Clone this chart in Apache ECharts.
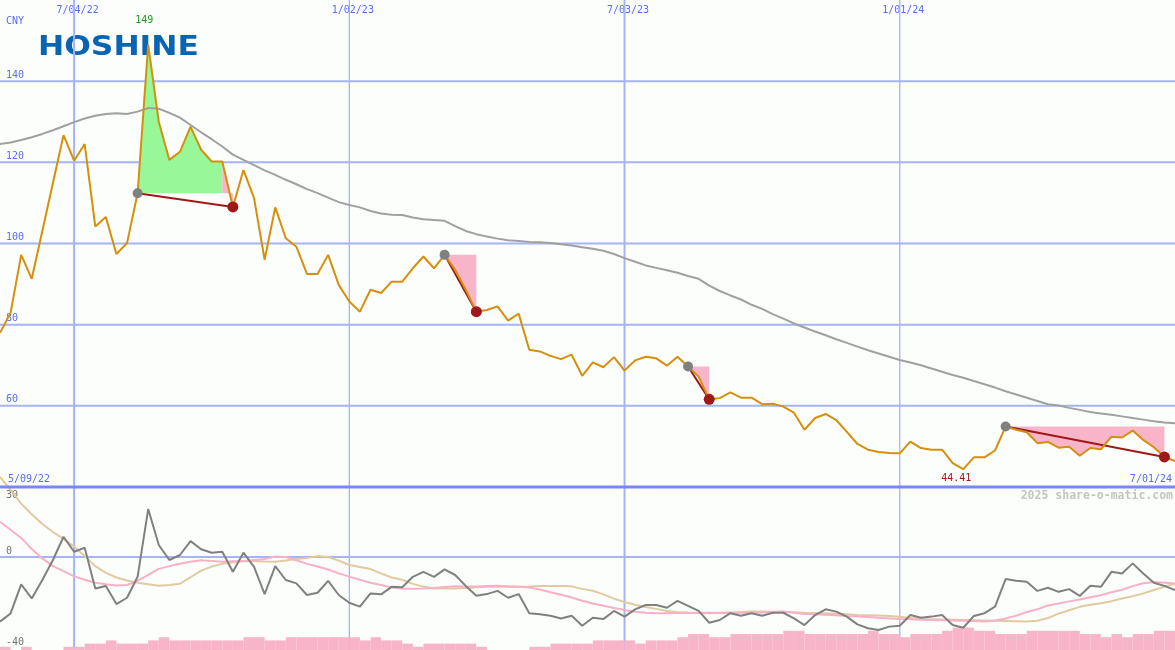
<!DOCTYPE html>
<html><head><meta charset="utf-8">
<script src="https://cdn.jsdelivr.net/npm/echarts@6/dist/echarts.min.js"></script>
<style>html,body{margin:0;padding:0;background:#fcfefc}#c{width:1175px;height:650px}</style>
</head><body><div id="c"></div>
<script>
// ---------- data ----------
const weekStart = [2022, 4, 16];          // first weekly point (Mon 16 May 2022)
const weekCount = 112;
const topTickIdx = [7, 33, 59, 85];       // 7/04/22, 1/02/23, 7/03/23, 1/01/24
const topTickWide = [true, false, true, false];
const priceTicks = [60, 80, 100, 120, 140];
const lowerTicks = [30, 0, -40];
const dateFirst = '5/09/22';
const dateLast = '7/01/24';
const currency = 'CNY';
const logoText = 'HOSHINE';
const watermark = '2025 share-o-matic.com';

const price = [78.0,82.9,97.2,91.3,103.1,114.9,126.7,120.4,124.5,104.2,
106.5,97.4,100.1,112.4,149,130,120.6,122.6,128.8,123.1,
120.2,120.2,109.0,118.1,111.2,96.0,108.9,101.3,99.2,92.5,
92.5,97.2,89.8,85.7,83.2,88.6,87.8,90.6,90.6,93.9,
96.8,93.9,97.2,93.5,88.6,83.2,83.6,84.5,81.0,82.7,
73.8,73.4,72.3,71.5,72.6,67.4,70.7,69.5,72.0,68.7,
71.2,72.1,71.7,69.9,72.1,69.7,67.2,61.6,61.9,63.3,
62.0,62.0,60.4,60.5,59.8,58.3,54.1,57.0,58.0,56.5,
53.6,50.6,49.2,48.6,48.4,48.3,51.2,49.6,49.2,49.2,
45.9,44.41,47.3,47.3,49.0,54.9,54.1,53.5,50.8,51.1,
49.7,49.9,47.7,49.6,49.3,52.4,52.2,53.9,51.6,49.8,
47.4,46.4];

const movingAvg = [124.5,124.9,125.5,126.2,127.0,127.9,128.9,129.9,130.8,131.5,
131.9,132.1,131.9,132.5,133.4,133.2,132.2,131.0,129.2,127.4,
125.7,123.9,121.9,120.6,119.3,118.0,116.9,115.7,114.6,113.4,
112.4,111.3,110.2,109.5,108.9,108.0,107.4,107.1,107.0,106.4,
106.0,105.8,105.6,104.3,103.1,102.3,101.7,101.2,100.8,100.6,
100.4,100.3,100.1,99.8,99.5,99.1,98.7,98.2,97.4,96.4,
95.5,94.6,94.0,93.4,92.8,92.0,91.3,89.6,88.3,87.2,
86.2,84.9,83.9,82.6,81.5,80.3,79.3,78.3,77.4,76.4,
75.5,74.6,73.7,72.9,72.1,71.3,70.7,70.0,69.2,68.4,
67.6,66.9,66.1,65.3,64.5,63.6,62.8,62.0,61.2,60.4,
60.1,59.5,59.0,58.5,58.1,57.8,57.4,57.0,56.6,56.2,
55.9,55.7];

const oscGrey = [-28.4,-24.8,-12.0,-18.2,-10.1,-1.3,8.9,2.3,4.1,-13.8,
-12.7,-20.7,-17.9,-8.7,21.1,5.3,-1.3,0.9,7.0,3.4,
1.9,2.3,-6.5,1.9,-4.3,-16.3,-4.0,-10.1,-11.6,-16.7,
-15.7,-10.5,-16.7,-20.1,-21.8,-16.0,-16.4,-13.1,-13.3,-8.7,
-6.5,-8.7,-5.4,-7.9,-12.7,-17.0,-16.3,-14.9,-17.9,-16.3,
-24.7,-25.2,-25.8,-27.0,-25.8,-30.2,-26.7,-27.3,-23.7,-26.2,
-23.0,-21.1,-21.1,-22.3,-19.3,-21.5,-23.7,-28.9,-27.7,-24.7,
-25.8,-24.7,-25.8,-24.5,-24.5,-27.0,-29.9,-25.5,-23.0,-24.0,
-26.2,-29.6,-31.3,-32.1,-30.6,-30.2,-25.5,-26.7,-26.2,-25.5,
-29.9,-31.1,-25.9,-24.7,-21.8,-9.7,-10.4,-10.9,-14.9,-13.5,
-15.3,-14.1,-17.1,-12.6,-13.1,-6.5,-7.2,-2.8,-7.2,-11.3,
-12.7,-14.5];

const oscPink = [15.5,12.0,8.4,3.5,-0.6,-4.0,-6.2,-8.5,-10.0,-11.3,
-12.0,-12.5,-12.3,-10.5,-7.8,-5.2,-4.0,-3.0,-2.1,-1.4,
-1.8,-2.1,-1.9,-1.8,-1.3,-0.9,0.2,0.0,-1.4,-3.0,
-4.2,-5.5,-7.2,-8.6,-10.0,-11.3,-12.3,-13.4,-14.0,-13.9,
-13.8,-13.6,-13.2,-12.8,-13.0,-13.0,-12.7,-12.6,-12.9,-13.1,
-13.4,-14.3,-15.5,-16.6,-17.8,-19.2,-20.4,-21.4,-22.4,-23.3,
-24.1,-24.5,-24.7,-24.7,-24.6,-24.5,-24.5,-24.5,-24.6,-24.6,
-24.5,-24.5,-24.4,-24.2,-24.0,-24.5,-25.0,-25.2,-25.4,-25.6,
-25.9,-26.1,-26.4,-26.7,-27.0,-27.3,-27.4,-27.6,-27.7,-27.8,
-27.9,-28.0,-28.1,-28.3,-27.9,-27.0,-25.8,-24.2,-23.0,-21.3,
-20.4,-19.5,-18.7,-17.7,-16.8,-15.5,-14.4,-12.8,-11.5,-11.0,
-11.3,-11.6];

const oscTan = [35.2,29.5,23.5,18.8,14.5,11.0,8.0,4.5,0.5,-4.0,
-7.0,-9.0,-10.3,-11.3,-12.0,-12.6,-12.3,-11.7,-8.9,-6.0,
-4.2,-3.0,-2.3,-1.9,-1.8,-2.0,-2.1,-1.5,-0.9,-0.4,
0.4,0.0,-1.6,-3.5,-4.4,-5.3,-7.2,-9.0,-10.0,-11.8,
-13.0,-13.8,-13.8,-13.8,-13.6,-13.3,-13.1,-13.1,-13.1,-13.1,
-13.0,-12.7,-12.7,-12.7,-12.9,-14.0,-14.8,-16.4,-18.3,-19.8,
-21.0,-22.0,-22.8,-23.7,-24.3,-24.5,-24.6,-24.7,-24.5,-24.3,
-24.2,-24.0,-24.0,-24.1,-24.2,-24.3,-24.5,-24.6,-24.7,-24.9,
-25.2,-25.5,-25.6,-25.7,-25.9,-26.3,-26.8,-27.3,-27.4,-27.5,
-27.6,-27.7,-27.8,-27.9,-28.0,-28.1,-28.2,-28.3,-28.0,-26.8,
-24.9,-23.4,-21.9,-21.0,-20.3,-19.4,-18.2,-17.2,-16.0,-14.5,
-13.0,-11.9];

const volume = [1,0,1,0,0,0,1,1,2,2,3,2,2,2,3,4,3,3,3,3,
3,3,3,4,4,3,3,4,4,4,4,4,4,4,3,4,3,3,2,1,
2,2,2,2,2,1,0,0,0,0,1,1,2,2,2,2,3,3,3,3,
2,3,3,3,4,5,5,4,4,5,5,5,5,5,6,6,5,5,5,5,
5,5,6,5,5,4,5,5,5,6,7,7,6,6,5,5,5,6,6,6,
6,6,5,5,4,5,4,5,5,6,6];

const trendStart = [13, 42, 65, 95];
const trendEnd = [22, 45, 67, 110];

// ---------- derived ----------
const pad = n => (n < 10 ? '0' : '') + n;
const weeks = [];
for (let i = 0; i < weekCount; i++) {
  const d = new Date(Date.UTC(weekStart[0], weekStart[1], weekStart[2]) + i * 7 * 86400000);
  weeks.push((d.getUTCMonth() + 1) + '/' + pad(d.getUTCDate()) + '/' + String(d.getUTCFullYear()).slice(2));
}
const barWeeks = weeks.slice(0, weekCount - 1);

const fillRuns = [];
trendStart.forEach((s, k) => {
  const e = trendEnd[k], level = price[s];
  let run = null;
  for (let i = s; i < e; i++) {
    const up = price[i + 1] > level;
    if (!run || run.up !== up) { run = {up, level, from: i, to: i + 1}; fillRuns.push(run); }
    else run.to = i + 1;
  }
});

const BLUE = '#5a6cf0', GRID = '#a4b4f4';
const MONO = '"DejaVu Sans Mono", monospace';

const chart = echarts.init(document.getElementById('c'), null, {renderer: 'canvas'});
const hidden = {show: false};
const baseX = (gi, data, gap) => ({gridIndex: gi, type: 'category', data, boundaryGap: gap,
  axisLine: hidden, axisTick: hidden, axisLabel: hidden, splitLine: hidden});

const option = {
  animation: false,
  backgroundColor: '#fcfefc',
  grid: [
    {left: 0, right: 0, top: 0, height: 487, containLabel: false, outerBoundsMode: 'none'},
    {left: 0, right: 0, top: 488.8, height: 159.2, containLabel: false, outerBoundsMode: 'none'},
    {left: 0, right: 0, top: 610, height: 40, containLabel: false, outerBoundsMode: 'none'},
    {left: 0, right: 0, top: 0, height: 650, containLabel: false, outerBoundsMode: 'none'}
  ],
  xAxis: [
    Object.assign(baseX(0, weeks, false), {position: 'top',
      axisLabel: {show: true, inside: true, margin: 5, color: BLUE, fontFamily: MONO, fontSize: 10,
        padding: [0, 0, 0, 7], verticalAlign: 'top',
        interval: (i) => topTickIdx.includes(i), formatter: v => v}}),
    baseX(1, weeks, false),
    baseX(2, barWeeks, true),
    baseX(3, weeks, false)
  ],
  yAxis: [
    {gridIndex: 0, type: 'value', min: 40, max: 160, interval: 20,
      axisLine: hidden, axisTick: hidden, splitLine: hidden,
      axisLabel: {show: true, inside: true, margin: 6, align: 'left', verticalAlign: 'middle',
        formatter: v => priceTicks.includes(v) ? '{a|' + v + '}' : '',
        rich: {a: {color: BLUE, fontFamily: MONO, fontSize: 10, padding: [0, 0, 12, 0]}}}},
    {gridIndex: 1, type: 'value', min: -40, max: 30, interval: 10,
      axisLine: hidden, axisTick: hidden, splitLine: hidden,
      axisLabel: {show: true, inside: true, margin: 6, align: 'left', verticalAlign: 'middle',
        formatter: v => !lowerTicks.includes(v) ? '' : (v === lowerTicks[0] ? '{b|' + v + '}' : '{a|' + v + '}'),
        rich: {a: {color: '#707070', fontFamily: MONO, fontSize: 10, padding: [0, 0, 12, 0]},
               b: {color: '#707070', fontFamily: MONO, fontSize: 10, padding: [14, 0, 0, 0]}}}},
    {gridIndex: 2, type: 'value', min: 0, max: 12.5, show: false, splitLine: hidden},
    {gridIndex: 3, type: 'value', min: 0, max: 1, show: false, splitLine: hidden}
  ],
  graphic: [
    {type: 'text', x: 6, y: 21, style: {text: currency, fill: BLUE, font: '10px ' + MONO, textAlign: 'left', textVerticalAlign: 'middle'}},
    {type: 'text', x: 38, y: 48, scaleX: 1.16, style: {text: logoText, fill: '#0a64b4', font: 'bold 27px "DejaVu Sans"', textAlign: 'left', textVerticalAlign: 'middle'}},
    {type: 'text', x: 8, y: 479, style: {text: dateFirst, fill: BLUE, font: '10px ' + MONO, textAlign: 'left', textVerticalAlign: 'middle'}},
    {type: 'text', x: 1172, y: 479, style: {text: dateLast, fill: BLUE, font: '10px ' + MONO, textAlign: 'right', textVerticalAlign: 'middle'}},
    {type: 'text', x: 1173, y: 496, style: {text: watermark, fill: '#c4c4c4', font: 'bold 11.5px ' + MONO, textAlign: 'right', textVerticalAlign: 'middle'}}
  ],
  series: [
    { // vertical date grid lines
      type: 'custom', xAxisIndex: 3, yAxisIndex: 3, z: 1, silent: true,
      data: topTickIdx.map((v, k) => [v, k]), encode: {x: 0},
      renderItem: (params, api) => {
        const cs = params.coordSys;
        const x = api.coord([api.value(0), 0])[0];
        return {type: 'line', shape: {x1: x, y1: cs.y, x2: x, y2: cs.y + cs.height},
          style: {stroke: GRID, lineWidth: topTickWide[params.dataIndex] ? 2 : 1.3}};
      }
    },
    { // horizontal price grid lines
      type: 'custom', xAxisIndex: 0, yAxisIndex: 0, z: 1, silent: true,
      data: priceTicks.map(v => [0, v]), encode: {x: 0, y: 1},
      renderItem: (params, api) => {
        const cs = params.coordSys;
        const y = api.coord([0, api.value(1)])[1];
        return {type: 'line', shape: {x1: cs.x, y1: y, x2: cs.x + cs.width, y2: y}, style: {stroke: GRID, lineWidth: 2}};
      }
    },
    { // lower zero line
      type: 'custom', xAxisIndex: 1, yAxisIndex: 1, z: 1, silent: true,
      data: [[0, 0]], encode: {x: 0, y: 1},
      renderItem: (params, api) => {
        const cs = params.coordSys;
        const y = api.coord([0, api.value(1)])[1];
        return {type: 'line', shape: {x1: cs.x, y1: y, x2: cs.x + cs.width, y2: y}, style: {stroke: GRID, lineWidth: 2}};
      }
    },
    { // panel separator at 40
      type: 'custom', xAxisIndex: 0, yAxisIndex: 0, z: 8, silent: true,
      data: [[0, 40]], encode: {x: 0, y: 1},
      renderItem: (params, api) => {
        const cs = params.coordSys;
        const y = api.coord([0, api.value(1)])[1];
        return {type: 'line', shape: {x1: cs.x, y1: y, x2: cs.x + cs.width, y2: y}, style: {stroke: '#7888f0', lineWidth: 3}};
      }
    },
    { // volume bars
      type: 'bar', xAxisIndex: 2, yAxisIndex: 2, z: 2, data: volume, barCategoryGap: '0%', barGap: '0%',
      itemStyle: {color: '#f8b4c8'}, silent: true
    },
    { // trend area fills
      type: 'custom', xAxisIndex: 0, yAxisIndex: 0, z: 3, silent: true,
      data: fillRuns.map(r => [r.from, r.level]), encode: {x: 0, y: 1},
      renderItem: (params, api) => {
        const r = fillRuns[params.dataIndex];
        const pts = [api.coord([r.from, r.level])];
        for (let i = r.from; i <= r.to; i++) pts.push(api.coord([i, price[i]]));
        pts.push(api.coord([r.to, r.level]));
        return {type: 'polygon', shape: {points: pts}, style: {fill: r.up ? '#98f898' : '#f8b4c8'}};
      }
    },
    {type: 'line', xAxisIndex: 0, yAxisIndex: 0, z: 4, data: movingAvg, symbol: 'none', silent: true,
      lineStyle: {color: '#a0a0a0', width: 2}},
    { // trend lines
      type: 'custom', xAxisIndex: 0, yAxisIndex: 0, z: 5, silent: true,
      data: trendStart.map((s, k) => [s, price[s], trendEnd[k], price[trendEnd[k]]]), encode: {x: [0, 2], y: [1, 3]},
      renderItem: (params, api) => {
        const a = api.coord([api.value(0), api.value(1)]);
        const b = api.coord([api.value(2), api.value(3)]);
        return {type: 'line', shape: {x1: a[0], y1: a[1], x2: b[0], y2: b[1]}, style: {stroke: '#a01818', lineWidth: 2}};
      }
    },
    {type: 'line', xAxisIndex: 0, yAxisIndex: 0, z: 6, data: price, symbol: 'none', silent: true,
      lineStyle: {color: '#d4900c', width: 2},
      markPoint: {symbol: 'circle', symbolSize: 1, itemStyle: {color: 'rgba(0,0,0,0)'}, silent: true,
        data: [
          {type: 'max', label: {show: true, position: 'inside', formatter: p => p.value, color: '#1a9a1a', fontFamily: MONO, fontSize: 10, offset: [-4, -24]}},
          {type: 'min', label: {show: true, position: 'inside', formatter: p => p.value, color: '#a01818', fontFamily: MONO, fontSize: 10, offset: [-7, 9]}}
        ]}},
    {type: 'scatter', xAxisIndex: 0, yAxisIndex: 0, z: 7, silent: true, symbolSize: 10,
      data: trendStart.map(s => [s, price[s]]), itemStyle: {color: '#808080', opacity: 1}},
    {type: 'scatter', xAxisIndex: 0, yAxisIndex: 0, z: 7, silent: true, symbolSize: 11,
      data: trendEnd.map(e => [e, price[e]]), itemStyle: {color: '#a01818', opacity: 1}},
    {type: 'line', xAxisIndex: 1, yAxisIndex: 1, z: 4, data: oscTan, symbol: 'none', silent: true, clip: false,
      lineStyle: {color: '#e2caa0', width: 2}},
    {type: 'line', xAxisIndex: 1, yAxisIndex: 1, z: 4, data: oscPink, symbol: 'none', silent: true, clip: false,
      lineStyle: {color: '#f8b0c8', width: 2}},
    {type: 'line', xAxisIndex: 1, yAxisIndex: 1, z: 5, data: oscGrey, symbol: 'none', silent: true,
      lineStyle: {color: '#808080', width: 2}}
  ]
};
chart.setOption(option);
</script></body></html>
